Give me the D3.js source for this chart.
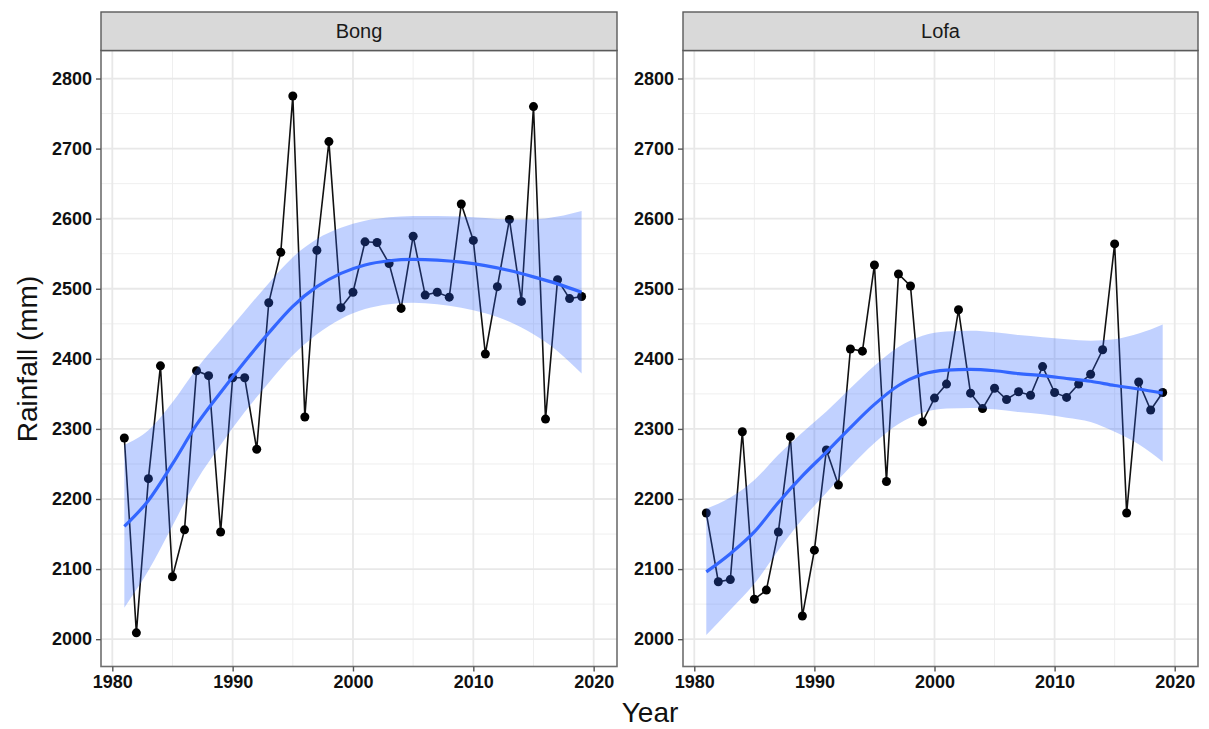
<!DOCTYPE html>
<html>
<head>
<meta charset="utf-8">
<script src="https://cdn.jsdelivr.net/npm/d3@7"></script>
<style>
  html, body { margin: 0; padding: 0; background: #fff; }
  svg { display: block; font-family: "Liberation Sans", Arial, sans-serif; }
</style>
</head>
<body>
<svg id="chart" width="1209" height="729"></svg>
<script>
// Annual rainfall by county, 1981-2019
const years = d3.range(1981, 2020);
const bongRain = [2287, 2009, 2229, 2390, 2089, 2156, 2383, 2376, 2153, 2373,
                  2373, 2271, 2480, 2552, 2775, 2317, 2555, 2710, 2473, 2495,
                  2567, 2566, 2536, 2472, 2575, 2491, 2495, 2488, 2621, 2569,
                  2407, 2503, 2599, 2482, 2760, 2314, 2513, 2486, 2489];
const lofaRain = [2180, 2082, 2085, 2296, 2057, 2070, 2153, 2289, 2033, 2127,
                  2270, 2220, 2414, 2411, 2534, 2225, 2521, 2504, 2310, 2344,
                  2364, 2470, 2351, 2329, 2358, 2342, 2353, 2348, 2389, 2352,
                  2345, 2364, 2378, 2413, 2564, 2180, 2367, 2327, 2352];

// Loess fit and half-width of its 95% confidence band, at every other year
const smoothYears = d3.range(1981, 2020, 2);
const bongFit = [2161, 2198, 2250, 2306, 2352, 2396, 2437, 2475, 2503, 2522,
                 2534, 2540, 2542, 2541, 2538, 2533, 2526, 2517, 2507, 2495];
const bongBand = [116, 100, 88, 80, 75, 72, 71, 70, 68, 65,
                  63, 62, 62, 63, 65, 68, 73, 82, 96, 116];
const lofaFit = [2096, 2122, 2153, 2195, 2233, 2267, 2302, 2335, 2362, 2378,
                 2384, 2385, 2383, 2379, 2376, 2372, 2368, 2362, 2357, 2351];
const lofaBand = [90, 80, 74, 68, 62, 58, 56, 55, 55, 55,
                  55, 55, 55, 55, 55, 56, 58, 66, 79, 98];

const panelNames = ["Bong", "Lofa"];
const xTicks = [1980, 1990, 2000, 2010, 2020];
const yTicks = [2000, 2100, 2200, 2300, 2400, 2500, 2600, 2700, 2800];

const panels = [
  { name: panelNames[0], rain: bongRain, fit: bongFit, band: bongBand, x0: 101, x1: 617 },
  { name: panelNames[1], rain: lofaRain, fit: lofaFit, band: lofaBand, x0: 683, x1: 1198 }
];

const svg = d3.select("#chart");
const plotTop = 50.5, plotBottom = 666.5, stripTop = 12;

const y = d3.scaleLinear().domain([1961, 2840]).range([plotBottom, plotTop]);

panels.forEach(p => {
  const x = d3.scaleLinear().domain([1979.06, 2021.94]).range([p.x0, p.x1]);
  const g = svg.append("g");

  // background grid: minor then major
  const minorX = d3.range(1985, 2021, 10);
  const minorY = d3.range(1950, 2850, 100).filter(v => v > 1961 && v < 2840);
  g.selectAll(".mx").data(minorX).join("line")
    .attr("x1", d => x(d)).attr("x2", d => x(d)).attr("y1", plotTop).attr("y2", plotBottom)
    .attr("stroke", "#efefef").attr("stroke-width", 1);
  g.selectAll(".my").data(minorY).join("line")
    .attr("x1", p.x0).attr("x2", p.x1).attr("y1", d => y(d)).attr("y2", d => y(d))
    .attr("stroke", "#efefef").attr("stroke-width", 1);
  g.selectAll(".gx").data(xTicks).join("line")
    .attr("x1", d => x(d)).attr("x2", d => x(d)).attr("y1", plotTop).attr("y2", plotBottom)
    .attr("stroke", "#e8e8e8").attr("stroke-width", 1.8);
  g.selectAll(".gy").data(yTicks).join("line")
    .attr("x1", p.x0).attr("x2", p.x1).attr("y1", d => y(d)).attr("y2", d => y(d))
    .attr("stroke", "#e8e8e8").attr("stroke-width", 1.8);

  // observed series
  const pts = years.map((yr, i) => [yr, p.rain[i]]);
  g.append("path").datum(pts)
    .attr("d", d3.line().x(d => x(d[0])).y(d => y(d[1])))
    .attr("fill", "none").attr("stroke", "#111").attr("stroke-width", 1.6);
  g.selectAll(".pt").data(pts).join("circle")
    .attr("cx", d => x(d[0])).attr("cy", d => y(d[1])).attr("r", 4.5)
    .attr("fill", "#000");

  // loess band and fit
  const sm = smoothYears.map((yr, i) => ({ yr, fit: p.fit[i], hw: p.band[i] }));
  g.append("path").datum(sm)
    .attr("d", d3.area().curve(d3.curveMonotoneX)
      .x(d => x(d.yr)).y0(d => y(d.fit - d.hw)).y1(d => y(d.fit + d.hw)))
    .attr("fill", "#3366FF").attr("fill-opacity", 0.3);
  g.append("path").datum(sm)
    .attr("d", d3.line().curve(d3.curveMonotoneX).x(d => x(d.yr)).y(d => y(d.fit)))
    .attr("fill", "none").attr("stroke", "#3366FF").attr("stroke-width", 3.2);

  // panel border
  g.append("rect").attr("x", p.x0).attr("y", plotTop).attr("width", p.x1 - p.x0)
    .attr("height", plotBottom - plotTop).attr("fill", "none")
    .attr("stroke", "#6e6e6e").attr("stroke-width", 1.6);

  // strip
  g.append("rect").attr("x", p.x0).attr("y", stripTop).attr("width", p.x1 - p.x0)
    .attr("height", plotTop - stripTop).attr("fill", "#d9d9d9")
    .attr("stroke", "#5a5a5a").attr("stroke-width", 1.4);
  g.append("text").attr("x", (p.x0 + p.x1) / 2).attr("y", (stripTop + plotTop) / 2)
    .attr("text-anchor", "middle").attr("dominant-baseline", "central")
    .attr("font-size", 20).attr("fill", "#1a1a1a").text(p.name);

  // axes
  const ax = g.append("g").attr("transform", `translate(0,${plotBottom})`)
    .call(d3.axisBottom(x).tickValues(xTicks).tickFormat(d3.format("d")).tickSize(5).tickPadding(4));
  const ay = g.append("g").attr("transform", `translate(${p.x0},0)`)
    .call(d3.axisLeft(y).tickValues(yTicks).tickFormat(d3.format("d")).tickSize(5).tickPadding(4));
  [ax, ay].forEach(a => {
    a.select(".domain").remove();
    a.selectAll(".tick line").attr("stroke", "#555").attr("stroke-width", 1.4);
    a.selectAll(".tick text").attr("font-size", 18).attr("font-weight", "bold")
      .attr("fill", "#111").attr("font-family", "'Liberation Sans', Arial, sans-serif");
  });
});

// axis titles
svg.append("text").attr("x", 650).attr("y", 722).attr("text-anchor", "middle")
  .attr("font-size", 28).attr("fill", "#111").text("Year");
svg.append("text").attr("transform", "translate(37,359) rotate(-90)")
  .attr("text-anchor", "middle").attr("font-size", 28).attr("fill", "#111")
  .text("Rainfall (mm)");
</script>
</body>
</html>
